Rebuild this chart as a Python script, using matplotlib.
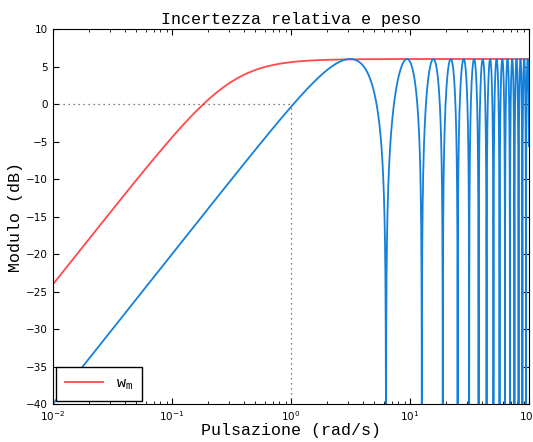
import numpy as np
import matplotlib
matplotlib.use("Agg")
import matplotlib.pyplot as plt

# ==========================================
# Data: delay uncertainty and its weight
# ==========================================
DELAY_TAU = 1.0          # s, relative uncertainty |e^{-s tau} - 1|
WEIGHT_GAIN_HF = 2.0     # high-frequency gain of w_m (about 6 dB)
WEIGHT_POLE = 0.318      # rad/s
W_RANGE = (-2, 2)        # decades, 10^-2 .. 10^2
N_POINTS = 6000
REF_LINE_W = 1.0         # dotted guide at 1 rad/s, 0 dB
LEGEND_LABELS = ["w$_\\mathregular{m}$"]

w = np.logspace(W_RANGE[0], W_RANGE[1], N_POINTS)
# add the notches (where e^{-jw tau} = 1) so every dip reaches the bottom
k = np.arange(1, int(10 ** W_RANGE[1] * DELAY_TAU / (2 * np.pi)) + 1)
w = np.sort(np.concatenate([w, 2 * np.pi * k / DELAY_TAU]))
s = 1j * w
unc = np.abs(np.exp(-s * DELAY_TAU) - 1)
unc_db = 20 * np.log10(np.maximum(unc, 1e-6))
wm_db = 20 * np.log10(np.abs(WEIGHT_GAIN_HF * s / (s + WEIGHT_POLE)))

# ==========================================
# Plot
# ==========================================
mono = "Liberation Mono"
fig = plt.figure(figsize=(5.33, 4.42), dpi=100)
ax = fig.add_axes([0.0994, 0.086, 0.8931, 0.848])

ax.semilogx(w, wm_db, color="#ff4a4a", lw=1.3, label=LEGEND_LABELS[0])
ax.semilogx(w, unc_db, color="#1580da", lw=1.3)
ax.plot([w[0], REF_LINE_W], [0, 0], color="#555555", ls=(0, (1, 3)), lw=0.9)
ax.plot([REF_LINE_W, REF_LINE_W], [-40, 0], color="#555555", ls=(0, (1, 3)), lw=0.9)

ax.set_xlim(1e-2, 1e2)
ax.set_ylim(-40, 10)
ax.set_yticks(np.arange(-40, 11, 5))
ax.tick_params(which="both", direction="in", top=True, right=True, labelsize=7.5)
ax.tick_params(which="major", length=4)
ax.tick_params(which="minor", length=2)
for sp in ax.spines.values():
    sp.set_linewidth(0.8)

ax.set_title("Incertezza relativa e peso", family=mono, fontsize=12, pad=4)
ax.set_xlabel("Pulsazione (rad/s)", family=mono, fontsize=12, labelpad=0)
ax.set_ylabel("Modulo (dB)", family=mono, fontsize=12, labelpad=2)

leg = ax.legend(loc="lower left", fancybox=False, edgecolor="black",
                framealpha=1, borderaxespad=0.2, borderpad=0.6, handlelength=2.5,
                prop={"family": mono, "size": 11})
leg.get_frame().set_linewidth(1.0)

fig.savefig("out.png", dpi=100)
